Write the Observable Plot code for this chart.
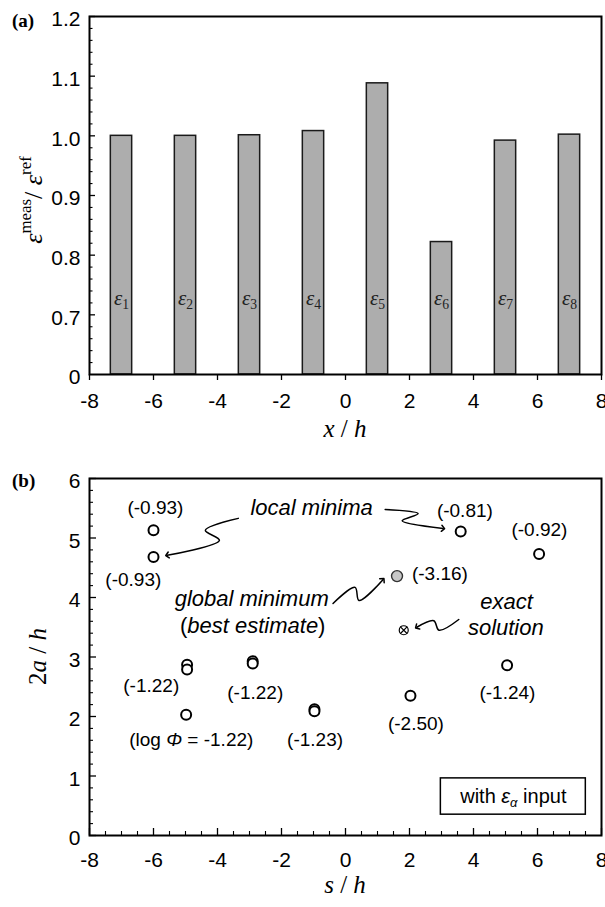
<!DOCTYPE html>
<html><head><meta charset="utf-8">
<script src="https://cdn.jsdelivr.net/npm/d3@7"></script>
<script src="https://cdn.jsdelivr.net/npm/@observablehq/plot@0.6"></script>
<style>
html,body{margin:0;padding:0;background:#fff;}
#chart svg{display:block;}
</style></head><body><div id="chart"></div>
<script>
// ---------- Panel (a) data ----------
const gaugeIndex = ["1","2","3","4","5","6","7","8"];
const gaugeX = [-7, -5, -3, -1, 1, 3, 5, 7];
const strainRatio = [1.000, 1.000, 1.001, 1.008, 1.088, 0.822, 0.992, 1.002];
const yTicksA = [0, 0.7, 0.8, 0.9, 1.0, 1.1, 1.2];
const xTicks = [-8, -6, -4, -2, 0, 2, 4, 6, 8];

// ---------- Panel (b) data ----------
const localS = [-6, -6, 3.6, 6.05, -4.95, -4.95, -2.9, -2.9, -4.98, -0.97, -0.97, 2.03, 5.05];
const localA = [5.13, 4.68, 5.11, 4.73, 2.87, 2.79, 2.93, 2.89, 2.03, 2.12, 2.09, 2.35, 2.86];
const globalS = [1.61];
const globalA = [4.36];
const exactS = [1.82];
const exactA = [3.45];
const yTicksB = [0, 1, 2, 3, 4, 5, 6];

// log Phi value labels (annotation text and anchor in data units)
const valueText = ["(-0.93)", "(-0.93)", "(-0.81)", "(-0.92)", "(-3.16)", "(-1.22)", "(-1.22)", "(log *Φ* = -1.22)", "(-1.23)", "(-2.50)", "(-1.24)"];
const valueS = [-5.94, -6.63, 3.73, 6.06, 2.95, -6.07, -2.82, -4.82, -0.95, 2.2, 5.06];
const valueA = [5.51, 4.29, 5.45, 5.13, 4.39, 2.52, 2.40, 1.60, 1.61, 1.88, 2.40];

// word annotations
const noteText = ["*local minima*", "*global minimum*", "(*best estimate*)", "*exact*", "*solution*"];
const noteS = [-1.06, -2.93, -2.9, 5.03, 5.01];
const noteA = [5.50, 3.98, 3.53, 3.92, 3.48];

// squiggle arrows (data units)
const arrowId = ["m1","m1","m1","m1","m2","m2","m2","m2","g","g","g","g","e","e","e","e"];
const arrowS = [-3.35, -4.38, -3.94, -5.57, 1.24, 2.27, 1.77, 3.05, -0.39, 0.30, 0.42, 1.17, 3.54, 2.92, 2.76, 2.23];
const arrowA = [5.33, 5.13, 4.96, 4.71, 5.48, 5.41, 5.29, 5.16, 3.90, 4.17, 3.95, 4.30, 3.63, 3.45, 3.61, 3.50];

// inset legend box
const boxS = [2.98, 7.51];
const boxA = [0.35, 0.96];
const boxText = "with *ε*_{*α*} input";

// ---------- helpers ----------
const SANS = "Liberation Sans, Arial, Helvetica, sans-serif";
const SERIF = "Liberation Serif, Times New Roman, serif";

function parseMarkup(s) {
  const re = /(\*[^*]+\*|_\{[^}]*\}|\^\{[^}]*\})/g;
  return s.split(re).filter(p => p !== "").map(p => {
    if (p.startsWith("_{") || p.startsWith("^{")) {
      let inner = p.slice(2, -1), it = false;
      if (inner.startsWith("*") && inner.endsWith("*")) { inner = inner.slice(1, -1); it = true; }
      return {t: inner, it, sub: p[0] === "_", sup: p[0] === "^"};
    }
    if (p.startsWith("*") && p.endsWith("*") && p.length > 1) return {t: p.slice(1, -1), it: true};
    return {t: p};
  });
}
function renderMarkup(el, s) {
  const parts = parseMarkup(s);
  el.textContent = "";
  let shift = 0;
  for (const p of parts) {
    const ts = document.createElementNS("http://www.w3.org/2000/svg", "tspan");
    ts.textContent = p.t;
    if (p.it) ts.setAttribute("font-style", "italic");
    let target = 0, scale = 1;
    if (p.sub || p.sup) { ts.setAttribute("font-size", "65%"); scale = 0.65; target = p.sub ? 0.22 : -0.42; }
    const d = target - shift;
    if (Math.abs(d) > 1e-9) ts.setAttribute("dy", (d / scale).toFixed(3) + "em");
    shift = target;
    el.appendChild(ts);
  }
}
function applyMarkup(svg) {
  d3.select(svg).selectAll("text").each(function () {
    const s = this.textContent;
    if (this.children.length === 0 && /\*|_\{|\^\{/.test(s)) renderMarkup(this, s);
  });
}
function addText(svg, s, {x, y, rotate = 0, anchor = "middle", size = 24, family = SERIF, weight = "normal"}) {
  const t = d3.select(svg).append("text")
    .attr("transform", `translate(${x},${y})` + (rotate ? ` rotate(${rotate})` : ""))
    .attr("text-anchor", anchor)
    .attr("font-family", family)
    .attr("font-size", size)
    .attr("font-weight", weight)
    .attr("fill", "black");
  renderMarkup(t.node(), s);
}

const W = 605, ML = 89, MR = 4;
const pxPerS = (W - ML - MR) / 16;
const hyphen = d => String(d);

// ---------- Panel (a) ----------
const bars = gaugeX.map((x, i) => ({x, v: strainRatio[i], label: gaugeIndex[i]}));
const hA = 450, mtA = 16, mbA = 76;
const yBotA = hA - mbA, stepA = (yBotA - mtA) / 6;
const majorA = yTicksA.slice(1);
const minorA = d3.range(35, 60).filter(k => k % 5 !== 0).map(k => k * 0.02)
  .concat([1, 2, 3, 4].map(k => k * 0.7 / 5));

const svgA = Plot.plot({
  width: W, height: hA, marginLeft: ML, marginRight: MR, marginTop: mtA, marginBottom: mbA,
  style: {fontFamily: SANS, fontSize: "20px", background: "white", color: "black"},
  x: {domain: [-8, 8]},
  y: {type: "linear", domain: [0, 0.7, 1.2], range: [yBotA, yBotA - stepA, mtA]},
  marks: [
    Plot.rectY(bars, {x1: d => d.x - 1/3, x2: d => d.x + 1/3, y1: 0, y2: "v", fill: "#adadad", stroke: "#1a1a1a", strokeWidth: 1.5}),
    Plot.text(bars, {x: "x", y: 0.728, text: d => "*ε*_{" + d.label + "}", fontFamily: SERIF, fontSize: 21, fill: "#222"}),
    Plot.ruleY(majorA, {x1: -8, x2: -8 + 6 / pxPerS, stroke: "black", strokeWidth: 1.3}),
    Plot.ruleY(minorA, {x1: -8, x2: -8 + 3.5 / pxPerS, stroke: "black", strokeWidth: 1.1}),
    Plot.axisX({ticks: xTicks, tickSize: 6, tickPadding: 13, fontSize: 21, label: null, strokeWidth: 1.3, tickFormat: hyphen}),
    Plot.axisY({ticks: yTicksA, tickSize: 0, tickPadding: 9, fontSize: 21, label: null, dy: 3,
      tickFormat: d => d === 0 ? "0" : d.toFixed(1)}),
    Plot.frame({stroke: "black", strokeWidth: 2})
  ]
});
applyMarkup(svgA);
addText(svgA, "(a)", {x: 12, y: 27, anchor: "start", size: 19, weight: "bold"});
addText(svgA, "*x* / *h*", {x: (ML + W - MR) / 2, y: 437, size: 25});
addText(svgA, "*ε*^{meas}/ *ε*^{ref}", {x: 42, y: 200, rotate: -90, size: 26});

// ---------- Panel (b) ----------
const hB = 457, mtB = 28, mbB = 72;
const pxPerA = (hB - mtB - mbB) / 6;
const localPts = localS.map((s, i) => ({s, a: localA[i]}));
const globalPts = globalS.map((s, i) => ({s, a: globalA[i]}));
const exactPts = exactS.map((s, i) => ({s, a: exactA[i]}));
const values = valueText.map((t, i) => ({t, s: valueS[i], a: valueA[i]}));
const notes = noteText.map((t, i) => ({t, s: noteS[i], a: noteA[i]}));
const arrows = arrowId.map((id, i) => ({id, s: arrowS[i], a: arrowA[i]}));
const minorYB = d3.range(0, 31).filter(k => k % 5 !== 0).map(k => k * 0.2);
const majorXB = xTicks;
const minorXB = d3.range(-16, 17).filter(k => k % 4 !== 0).map(k => k * 0.5);

const svgB = Plot.plot({
  width: W, height: hB, marginLeft: ML, marginRight: MR, marginTop: mtB, marginBottom: mbB,
  style: {fontFamily: SANS, fontSize: "20px", background: "white", color: "black"},
  x: {domain: [-8, 8]},
  y: {domain: [0, 6]},
  marks: [
    Plot.ruleY(yTicksB, {x1: -8, x2: -8 + 7 / pxPerS, stroke: "black", strokeWidth: 1.3}),
    Plot.ruleY(minorYB, {x1: -8, x2: -8 + 4 / pxPerS, stroke: "black", strokeWidth: 1.1}),
    Plot.ruleX(majorXB, {y1: 0, y2: 7 / pxPerA, stroke: "black", strokeWidth: 1.3}),
    Plot.ruleX(minorXB, {y1: 0, y2: 4 / pxPerA, stroke: "black", strokeWidth: 1.1}),
    Plot.axisX({ticks: xTicks, tickSize: 0, tickPadding: 17, fontSize: 21, label: null, tickFormat: hyphen}),
    Plot.axisY({ticks: yTicksB, tickSize: 0, tickPadding: 9, fontSize: 21, label: null, dy: 3, tickFormat: hyphen}),
    Plot.frame({stroke: "black", strokeWidth: 2}),
    Plot.rect([0], {x1: boxS[0], x2: boxS[1], y1: boxA[0], y2: boxA[1], fill: "white", stroke: "black", strokeWidth: 1.5}),
    Plot.text([boxText], {x: (boxS[0] + boxS[1]) / 2, y: (boxA[0] + boxA[1]) / 2, text: d => d, fontSize: 20}),
    Plot.line(arrows, {x: "s", y: "a", z: "id", curve: "catmull-rom", stroke: "black", strokeWidth: 1.5, markerEnd: "arrow"}),
    Plot.dot(localPts, {x: "s", y: "a", r: 5, fill: "white", stroke: "black", strokeWidth: 2}),
    Plot.dot(globalPts, {x: "s", y: "a", r: 5.5, fill: "#c8c8c8", stroke: "#333", strokeWidth: 1.4}),
    Plot.dot(exactPts, {x: "s", y: "a", r: 4.5, fill: "white", stroke: "black", strokeWidth: 1.2}),
    Plot.dot(exactPts, {x: "s", y: "a", r: 3.3, symbol: "times", stroke: "black", strokeWidth: 1.2}),
    Plot.text(values, {x: "s", y: "a", text: "t", fontSize: 19}),
    Plot.text(notes, {x: "s", y: "a", text: "t", fontSize: 22})
  ]
});
applyMarkup(svgB);
addText(svgB, "(b)", {x: 12, y: 37, anchor: "start", size: 19, weight: "bold"});
addText(svgB, "*s* / *h*", {x: (ML + W - MR) / 2, y: 443, size: 25});
addText(svgB, "2*a* / *h*", {x: 46, y: mtB + (hB - mtB - mbB) / 2, rotate: -90, size: 25});

const root = document.getElementById("chart");
root.appendChild(svgA);
root.appendChild(svgB);
</script></body></html>
